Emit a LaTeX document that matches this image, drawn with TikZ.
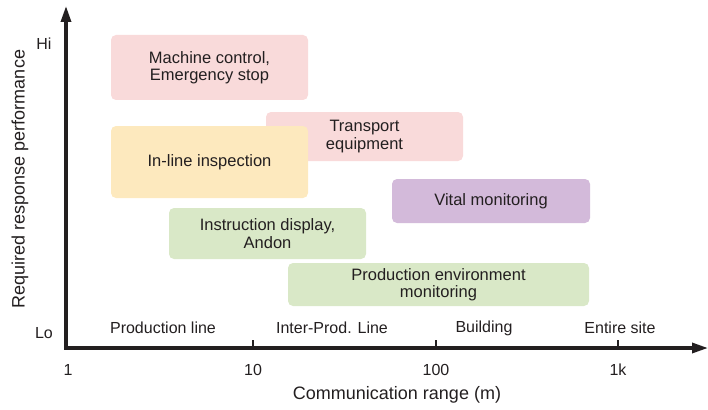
\documentclass[tikz,border=0pt]{standalone}
\usepackage{fontspec}
\setmainfont{Liberation Sans}
\usetikzlibrary{arrows.meta}
\definecolor{ink}{HTML}{231F20}
\definecolor{blush}{HTML}{F9DADA}
\definecolor{cream}{HTML}{FDE9BE}
\definecolor{lilac}{HTML}{D3BADA}
\definecolor{sage}{HTML}{D9E8C7}

\tikzset{
  zone/.style={rounded corners=5pt, inner sep=0pt, align=center, text=ink,
    font=\fontsize{16.5}{17.5}\selectfont},
  axislabel/.style={text=ink, font=\fontsize{16}{18}\selectfont},
  axistitle/.style={text=ink, font=\fontsize{18}{20}\selectfont},
  axisline/.style={ink, line width=3.2pt, -{Triangle[length=16pt,width=10pt]}},
  tickmark/.style={ink, line width=2pt}
}

\begin{document}
\begin{tikzpicture}[x=1pt, y=-1pt]
  \useasboundingbox (0,0) rectangle (708,409);

  % Application zones
  \node[zone, fill=blush, minimum width=197pt, minimum height=65pt]
    (machine) at (209.5,67.5) {Machine control,\\Emergency stop};
  \node[zone, fill=blush, minimum width=197pt, minimum height=49pt]
    (transport) at (364.5,136.5) {Transport\\equipment};
  \node[zone, fill=cream, minimum width=197pt, minimum height=72pt]
    (inline) at (209.5,162) {In-line inspection};
  \node[zone, fill=lilac, minimum width=198pt, minimum height=44pt]
    (vital) at (491,201) {Vital monitoring};
  \node[zone, fill=sage, minimum width=197pt, minimum height=51pt]
    (instruct) at (267.5,233.5) {Instruction display,\\Andon};
  \node[zone, fill=sage, minimum width=301pt, minimum height=43pt]
    (environ) at (438.5,284.5) {Production environment\\monitoring};

  % Axes
  \coordinate (origin) at (66,348);
  \coordinate (ytop) at (66,6);
  \coordinate (xend) at (708,348);
  \draw[axisline] (origin) ++(0,1.6) -- (ytop);
  \draw[axisline] (origin) ++(-1.6,0) -- (xend);

  % Decade ticks
  \foreach \xx/\lbl [count=\i] in {253/10, 436/100, 618/1k} {
    \coordinate (tick\i) at (\xx,348);
    \draw[tickmark] (tick\i) -- ++(0,-8);
    \node[axislabel] (val\i) at (\xx,370) {\lbl};
  }
  \node[axislabel] (val0) at (68,370) {1};

  % Range categories
  \node[axislabel] (cat1) at (163,328) {Production line};
  \node[axislabel] (cat2) at (332,328) {Inter-Prod. Line};
  \node[axislabel] (cat3) at (484,328) {Building};
  \node[axislabel] (cat4) at (620,328) {Entire site};

  % Axis titles
  \node[axislabel] (hi) at (44,44) {Hi};
  \node[axislabel] (lo) at (44,333) {Lo};
  \node[axistitle] (xtitle) at (397,395) {Communication range (m)};
  \node[axistitle, rotate=90] (ytitle) at (20,179) {Required response performance};
\end{tikzpicture}
\end{document}
